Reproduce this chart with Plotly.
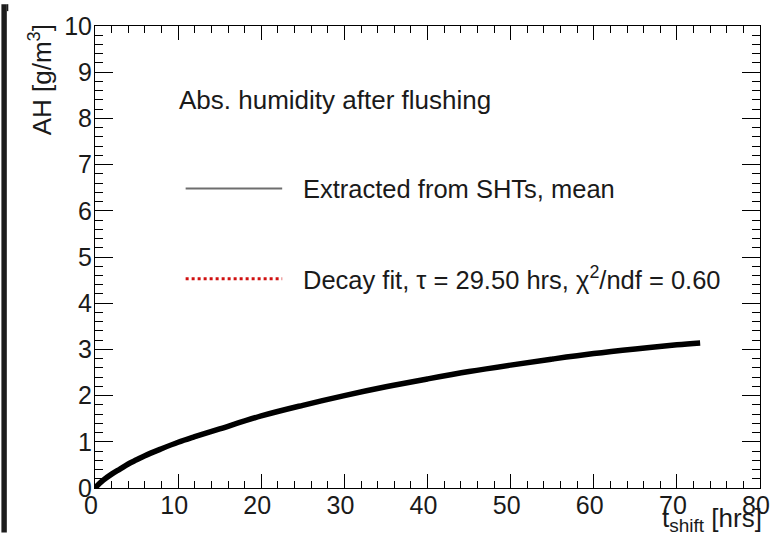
import plotly.graph_objects as go

# Data
t_hours = [0, 0.5, 1, 2, 3, 4, 5, 6, 8, 10, 12, 15, 20, 25, 30, 35, 40, 45, 50, 55, 60, 65, 70, 72.8]
ah_mean = [0.0, 0.09, 0.17, 0.30, 0.41, 0.52, 0.61, 0.70, 0.85, 0.99, 1.11, 1.28, 1.56, 1.79, 2.00, 2.19, 2.36, 2.52, 2.66, 2.79, 2.91, 3.01, 3.10, 3.14]
ah_fit = [0.0, 0.10, 0.18, 0.31, 0.42, 0.52, 0.61, 0.70, 0.85, 0.99, 1.11, 1.28, 1.56, 1.79, 2.00, 2.19, 2.36, 2.52, 2.66, 2.79, 2.91, 3.01, 3.10, 3.14]

x_ticks = [0, 10, 20, 30, 40, 50, 60, 70, 80]
y_ticks = [0, 1, 2, 3, 4, 5, 6, 7, 8, 9, 10]

title_text = "Abs. humidity after flushing"
legend_mean = "Extracted from SHTs, mean"
legend_fit = "Decay fit, \u03c4 = 29.50 hrs, \u03c7<sup>2</sup>/ndf = 0.60"

W, H = 782, 539
L, R, T, B = 95, 770, 22, 488


def px(x):
    return (x - L) / (R - L)


def py(y):
    return (B - y) / (B - T)


FONT = "Liberation Sans, Arial, sans-serif"
TXT = "#1a1a1a"

fig = go.Figure()
fig.add_trace(go.Scatter(x=t_hours, y=ah_fit, mode="lines",
                         line=dict(color="#d01010", width=3, dash="dot"),
                         showlegend=False))
fig.add_trace(go.Scatter(x=t_hours, y=ah_mean, mode="lines",
                         line=dict(color="black", width=5.5, shape="spline"),
                         showlegend=False))

axis_common = dict(
    showgrid=False, zeroline=False, showline=True, linecolor="black", linewidth=1,
    mirror="allticks", ticks="inside", tickcolor="black", tickwidth=1,
    tickfont=dict(family=FONT, size=25, color=TXT), ticklabeloverflow="allow",
)
fig.update_xaxes(range=[0, 80], tickvals=x_ticks, ticklen=14, ticklabelstandoff=-5,
                 ticklabelshift=-4,
                 minor=dict(dtick=2, ticklen=7, ticks="inside", tickcolor="black", tickwidth=1),
                 **axis_common)
fig.update_yaxes(range=[0, 10], tickvals=y_ticks, ticklen=18, ticklabelstandoff=-3,
                 minor=dict(dtick=0.2, ticklen=8, ticks="inside", tickcolor="black", tickwidth=1),
                 **axis_common)

shapes = [
    dict(type="rect", xref="paper", yref="paper", x0=px(0), x1=px(5.5), y0=py(533), y1=py(0),
         fillcolor="#1c1c1c", line=dict(width=0), layer="above"),
    dict(type="rect", xref="paper", yref="paper", x0=px(5.5), x1=px(7), y0=py(7), y1=py(0),
         fillcolor="#1c1c1c", line=dict(width=0), layer="above"),
    dict(type="line", xref="paper", yref="paper", x0=px(187), x1=px(285), y0=py(186), y1=py(186),
         line=dict(color="#6e6e6e", width=2)),
    dict(type="line", xref="paper", yref="paper", x0=px(187), x1=px(285), y0=py(277), y1=py(277),
         line=dict(color="#d01010", width=3, dash="dot")),
]

annotations = [
    dict(text=title_text, xref="paper", yref="paper", x=px(178), y=py(97),
         xanchor="left", yanchor="middle", showarrow=False,
         font=dict(family=FONT, size=26, color=TXT)),
    dict(text=legend_mean, xref="paper", yref="paper", x=px(304), y=py(186),
         xanchor="left", yanchor="middle", showarrow=False,
         font=dict(family=FONT, size=25.5, color=TXT)),
    dict(text=legend_fit, xref="paper", yref="paper", x=px(304), y=py(276),
         xanchor="left", yanchor="middle", showarrow=False,
         font=dict(family=FONT, size=25.5, color=TXT)),
    dict(text="AH [g/m<sup>3</sup>]", xref="paper", yref="paper", x=px(40), y=py(18),
         xanchor="center", yanchor="top", textangle=-90, showarrow=False,
         font=dict(family=FONT, size=26, color=TXT)),
    dict(text="t<sub><span style='font-size:19px'>shift</span></sub> [hrs]",
         xref="paper", yref="paper", x=px(774), y=py(501),
         xanchor="right", yanchor="top", showarrow=False,
         font=dict(family=FONT, size=26, color=TXT)),
]

fig.update_layout(
    width=W, height=H, margin=dict(l=L, r=W - R, t=T, b=H - B, pad=0),
    paper_bgcolor="white", plot_bgcolor="white",
    shapes=shapes, annotations=annotations, showlegend=False,
)

fig.write_html(
    "out.html",
    config={"displayModeBar": False},
    post_script="document.body.style.margin='0';document.body.style.padding='0';"
                "document.body.style.overflow='hidden';",
)
